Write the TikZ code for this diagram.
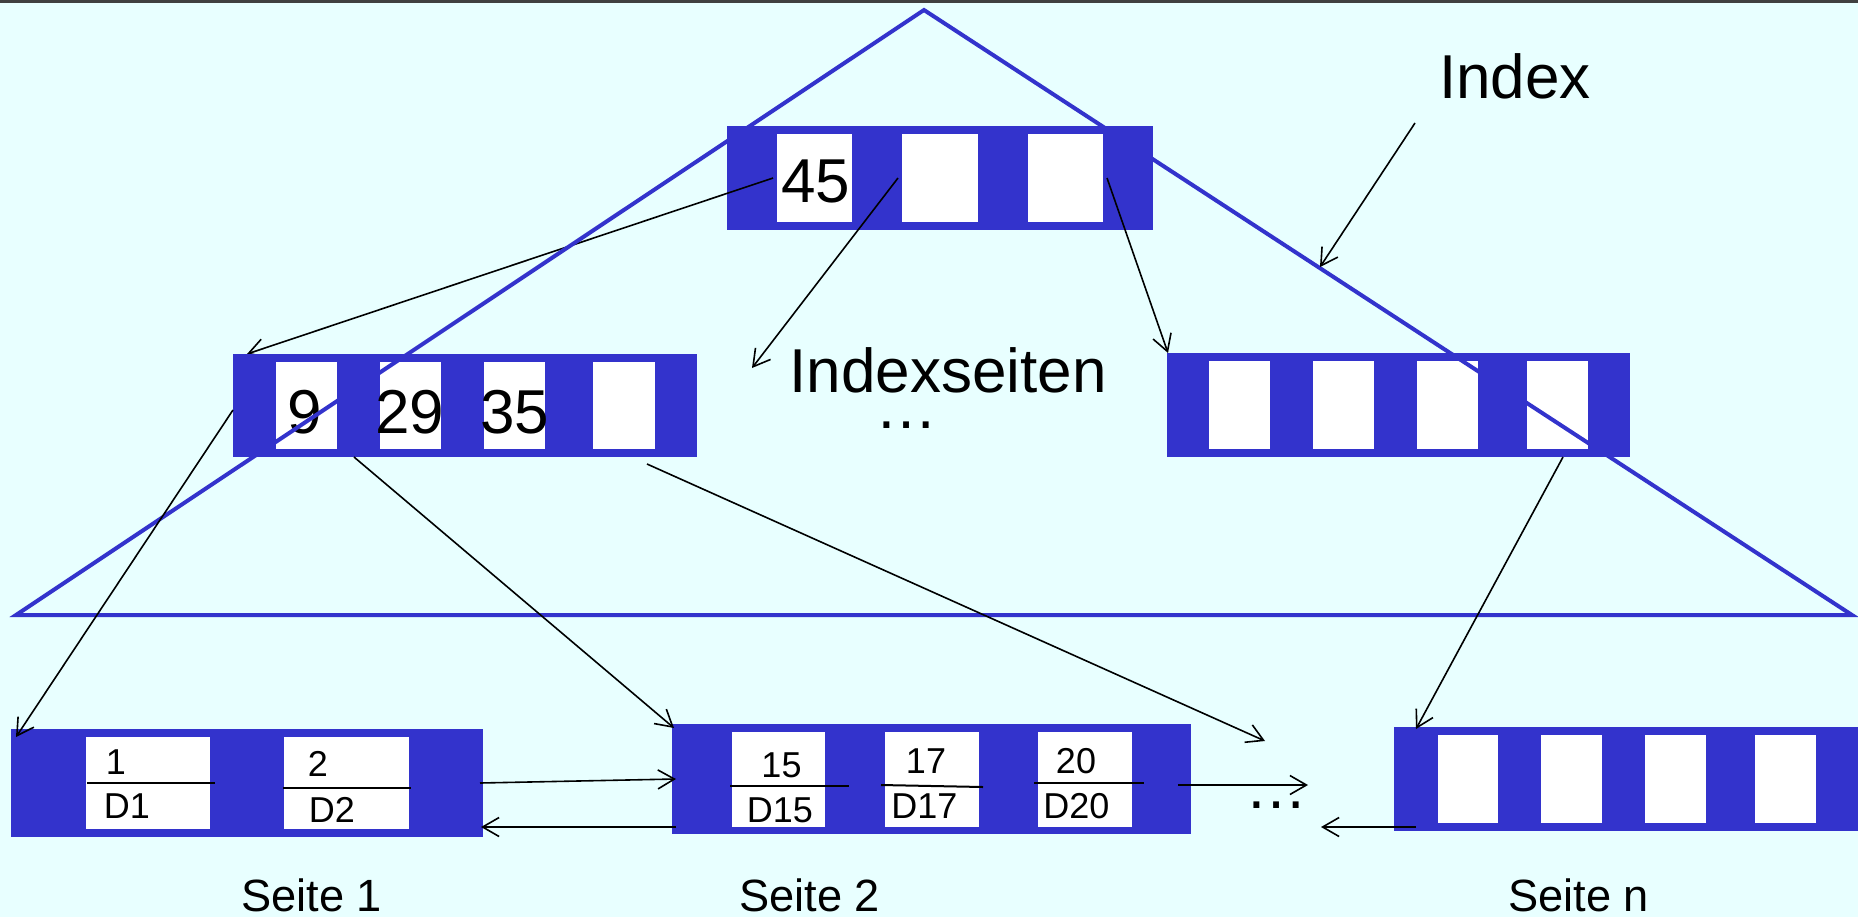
\documentclass[tikz,border=0pt]{standalone}
\usepackage{fontspec}
\setmainfont{Liberation Sans}
\usetikzlibrary{arrows.meta,fit}
\definecolor{bgcyan}{RGB}{232,255,255}
\definecolor{nblue}{RGB}{51,51,204}
\newcommand\bigf{\fontsize{31}{31}\selectfont}
\newcommand\cellf{\fontsize{18}{18}\selectfont}
\newcommand\labf{\fontsize{22.6}{22.6}\selectfont}
\tikzset{
  bluebox/.style={fill=nblue, draw=none, inner sep=0pt, outer sep=0pt},
  cellbox/.style={fill=white, draw=none, inner sep=0pt, outer sep=0pt},
  txt/.style={inner sep=0pt, outer sep=0pt, text=black, anchor=base},
  tri/.style={draw=nblue, line width=2pt, line join=miter},
  conn/.style={-{Straight Barb[length=8.25pt,width=9.5pt]}, line width=0.8pt, black},
  divider/.style={line width=1pt, black}
}
\begin{document}
\begin{tikzpicture}[x=0.5pt,y=-0.5pt]
\useasboundingbox (0,0) rectangle (1858,917);
\fill[bgcyan] (0,0) rectangle (1858,917);
\fill[black!75] (0,0) rectangle (1858,3);

% connector end points
\coordinate (a1s) at (773,178); \coordinate (a1e) at (247,354);
\coordinate (a2s) at (898,178); \coordinate (a2e) at (752,368);
\coordinate (a3s) at (1107,178); \coordinate (a3e) at (1168,353);
\coordinate (a4s) at (1415,123); \coordinate (a4e) at (1320,267);
\coordinate (a5s) at (233,410); \coordinate (a5e) at (16,737);
\coordinate (a6s) at (354,457); \coordinate (a6e) at (674,728);
\coordinate (a7s) at (647,464); \coordinate (a7e) at (1265,741);
\coordinate (a8s) at (1563,457); \coordinate (a8e) at (1416,729);
\coordinate (a9s) at (480,783); \coordinate (a9e) at (676,779);
\coordinate (a10s) at (676,827); \coordinate (a10e) at (481,827);
\coordinate (a11s) at (1178,785); \coordinate (a11e) at (1308,785);
\coordinate (a12s) at (1416,827); \coordinate (a12e) at (1321,827);
\coordinate (tA) at (924,10);
\coordinate (tL) at (16,615);
\coordinate (tR) at (1852,615);

% root index page
\node[bluebox, fit={(727,126) (1153,230)}] (root) {};
\node[cellbox, fit={(777,134) (852,222)}] (rc1) {};
\node[cellbox, fit={(902,134) (978,222)}] (rc2) {};
\node[cellbox, fit={(1028,134) (1103,222)}] (rc3) {};
\node[txt] (t45) at (816,202) {\bigf 45};

% arrow lying under the left index page
\draw[conn] (a1s) -- (a1e);

% left index page
\node[bluebox, fit={(233,354) (697,457)}] (L2L) {};
\node[cellbox, fit={(276,362) (337,449)}] (lc1) {};
\node[cellbox, fit={(380,362) (441,449)}] (lc2) {};
\node[cellbox, fit={(484,362) (545,449)}] (lc3) {};
\node[cellbox, fit={(593,362) (655,449)}] (lc4) {};
\node[txt] (t9) at (305,433) {\bigf 9};
\node[txt] (t29) at (409.5,433) {\bigf 29};
\node[txt] (t35) at (514.5,433) {\bigf 35};

% right index page
\node[bluebox, fit={(1167,353) (1630,457)}] (L2R) {};
\node[cellbox, fit={(1209,361) (1270,449)}] (rr1) {};
\node[cellbox, fit={(1313,361) (1374,449)}] (rr2) {};
\node[cellbox, fit={(1417,361) (1478,449)}] (rr3) {};
\node[cellbox, fit={(1527,361) (1588,449)}] (rr4) {};

% Seite 1
\node[bluebox, fit={(11,729) (483,837)}] (S1) {};
\node[cellbox, fit={(86,737) (210,829)}] (s1c1) {};
\node[cellbox, fit={(284,737) (409,829)}] (s1c2) {};
\draw[divider] (87,783) -- (215,783);
\draw[divider] (283,788) -- (411,788);
\node[txt] (k1) at (116,774) {\cellf 1};
\node[txt] (d1) at (127,818) {\cellf D1};
\node[txt] (k2) at (318,776) {\cellf 2};
\node[txt] (d2) at (332,822) {\cellf D2};

% Seite 2
\node[bluebox, fit={(672,724) (1191,834)}] (S2) {};
\node[cellbox, fit={(732,732) (825,827)}] (s2c1) {};
\node[cellbox, fit={(885,732) (979,827)}] (s2c2) {};
\node[cellbox, fit={(1038,732) (1132,827)}] (s2c3) {};
\draw[divider] (730,786) -- (849,786);
\draw[divider] (881,785) -- (983,787);
\draw[divider] (1034,783) -- (1144,783);
\node[txt] (k15) at (781.5,777) {\cellf 15};
\node[txt] (d15) at (780,822) {\cellf D15};
\node[txt] (k17) at (926,773) {\cellf 17};
\node[txt] (d17) at (924.5,818) {\cellf D17};
\node[txt] (k20) at (1076,773) {\cellf 20};
\node[txt] (d20) at (1076.5,818) {\cellf D20};

% Seite n
\node[bluebox, fit={(1394,727) (1858,831)}] (Sn) {};
\node[cellbox, fit={(1438,735) (1498,823)}] (snc1) {};
\node[cellbox, fit={(1541,735) (1602,823)}] (snc2) {};
\node[cellbox, fit={(1645,735) (1706,823)}] (snc3) {};
\node[cellbox, fit={(1755,735) (1816,823)}] (snc4) {};

% labels
\node[txt] (lIndex) at (1515,98) {\bigf Index};
\node[txt] (lIS) at (948,392) {\bigf Indexseiten};
\node[txt] (dotsA) at (906,428) {\bigf …};
\node[txt] (dotsB) at (1276,808) {\bigf …};
\node[txt] (ls1) at (311.5,911) {\labf Seite 1};
\node[txt] (ls2) at (809.5,911) {\labf Seite 2};
\node[txt] (lsn) at (1578.5,911) {\labf Seite n};

% index triangle
\draw[tri] (tA) -- (tL) -- (tR) -- cycle;

% connectors
\draw[conn] (a2s) -- (a2e);
\draw[conn] (a3s) -- (a3e);
\draw[conn] (a4s) -- (a4e);
\draw[conn] (a5s) -- (a5e);
\draw[conn] (a6s) -- (a6e);
\draw[conn] (a7s) -- (a7e);
\draw[conn] (a8s) -- (a8e);
\draw[conn] (a9s) -- (a9e);
\draw[conn] (a10s) -- (a10e);
\draw[conn] (a11s) -- (a11e);
\draw[conn] (a12s) -- (a12e);
\end{tikzpicture}
\end{document}
